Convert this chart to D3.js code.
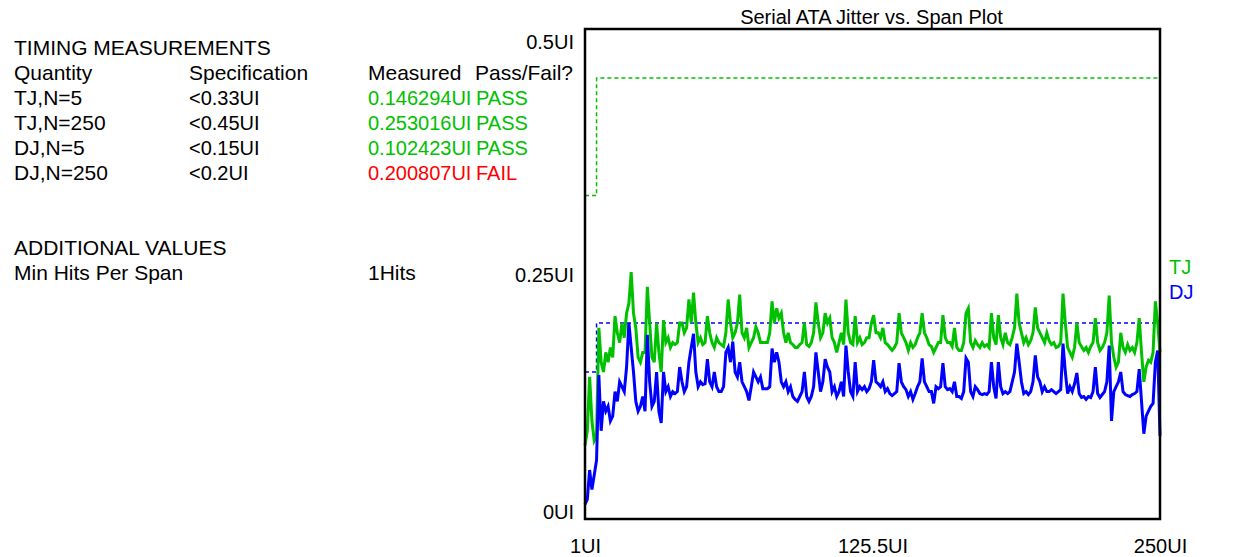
<!DOCTYPE html>
<html><head><meta charset="utf-8">
<script src="https://cdn.jsdelivr.net/npm/d3@7/dist/d3.min.js"></script>
<style>
html,body{margin:0;padding:0;background:#fff;}
svg text{font-family:"Liberation Sans",Arial,sans-serif;font-size:20px;fill:#000;}
svg text.w{font-size:21px;}
</style></head>
<body><svg id="c" width="1257" height="557"></svg>
<script>
// ---- data ----
const chartTitle = "Serial ATA Jitter vs. Span Plot";
const quantities = ["TJ,N=5","TJ,N=250","DJ,N=5","DJ,N=250"];
const specs = ["<0.33UI","<0.45UI","<0.15UI","<0.2UI"];
const measured = ["0.146294UI","0.253016UI","0.102423UI","0.200807UI"];
const passFail = ["PASS","PASS","PASS","FAIL"];
const headers = ["Quantity","Specification","Measured","Pass/Fail?"];
const extraNames = ["Min Hits Per Span"];
const extraValues = ["1Hits"];
const yTicks = [0, 0.25, 0.5];
const yTickLabels = ["0UI","0.25UI","0.5UI"];
const xTicks = [1, 125.5, 250];
const xTickLabels = ["1UI","125.5UI","250UI"];
const seriesNames = ["TJ","DJ"];
// spec limits: span 1..5 uses N=5 limit, span >=6 uses N=250 limit
const specSpans = [1, 6, 250];
const specTJ = [0.33, 0.45, 0.45];
const specDJ = [0.15, 0.2, 0.2];
const tj = [
0.075,0.09,0.145,0.10,0.08,0.085,0.195,0.16,0.15,0.17,
0.16,0.175,0.165,0.207,0.19,0.18,0.2,0.185,0.21,0.22,
0.252,0.21,0.195,0.165,0.16,0.17,0.17,0.237,0.2,0.165,
0.16,0.2,0.17,0.15,0.203,0.18,0.185,0.175,0.18,0.178,
0.18,0.2,
0.2,0.19,0.195,0.224,0.2,0.231,0.2,0.18,0.185,0.178,
0.18,0.207,0.19,0.18,0.175,0.185,0.18,0.178,0.176,0.19,
0.224,0.2,0.185,0.19,0.2,0.229,0.19,0.185,0.195,0.175,
0.18,0.185,0.196,0.19,0.18,0.18,0.18,0.18,0.19,0.222,
0.2,
0.215,0.205,0.21,0.19,0.18,0.19,0.18,0.178,0.175,0.175,
0.178,0.18,0.2,0.178,0.176,0.18,0.19,0.221,0.2,0.185,
0.19,0.21,0.2,0.205,0.185,0.18,0.17,0.18,0.19,0.178,
0.224,0.19,0.18,0.178,0.207,0.18,0.185,0.178,0.18,0.185,
0.185,0.2,
0.208,0.19,0.19,0.185,0.195,0.18,0.178,0.175,0.172,0.175,
0.18,0.21,0.19,0.185,0.18,0.172,0.18,0.175,0.178,0.185,
0.19,0.21,0.19,0.185,0.178,0.176,0.17,0.175,0.18,0.18,
0.208,0.185,0.18,0.18,0.176,0.195,0.175,0.172,0.172,0.18,
0.21,
0.215,0.18,0.175,0.182,0.178,0.175,0.18,0.176,0.178,0.175,
0.21,0.185,0.178,0.208,0.185,0.178,0.19,0.18,0.178,0.185,
0.195,0.23,0.2,0.19,0.18,0.185,0.178,0.182,0.19,0.216,
0.195,0.19,0.185,0.18,0.19,0.182,0.178,0.18,0.175,0.176,
0.18,0.23,
0.2,0.175,0.17,0.165,0.175,0.2,0.18,0.176,0.172,0.175,
0.17,0.176,0.18,0.205,0.18,0.172,0.175,0.18,0.19,0.228,
0.18,0.165,0.155,0.16,0.19,0.175,0.17,0.178,0.172,0.175,
0.17,0.18,0.205,0.17,0.14,0.155,0.162,0.16,0.17,0.222,
0.2,0.17];
const dj = [
0.015,0.02,0.05,0.03,0.045,0.06,0.147,0.09,0.12,0.11,
0.115,0.1,0.105,0.13,0.12,0.14,0.135,0.13,0.155,0.2,
0.175,0.15,0.12,0.11,0.115,0.125,0.11,0.188,0.14,0.115,
0.12,0.15,0.11,0.098,0.15,0.13,0.135,0.125,0.13,0.128,
0.13,0.155,
0.14,0.13,0.135,0.16,0.175,0.189,0.15,0.135,0.14,0.137,
0.138,0.163,0.14,0.135,0.15,0.135,0.13,0.13,0.135,0.17,
0.175,0.16,0.181,0.15,0.145,0.16,0.14,0.135,0.13,0.121,
0.135,0.15,0.145,0.14,0.145,0.133,0.133,0.133,0.135,0.174,
0.16,
0.17,0.16,0.14,0.135,0.14,0.13,0.135,0.125,0.122,0.12,
0.125,0.13,0.15,0.125,0.12,0.125,0.135,0.17,0.15,0.13,
0.14,0.163,0.155,0.15,0.13,0.135,0.125,0.13,0.14,0.125,
0.177,0.15,0.13,0.125,0.16,0.13,0.135,0.132,0.135,0.13,
0.133,0.14,
0.162,0.14,0.138,0.135,0.14,0.13,0.133,0.128,0.126,0.128,
0.13,0.159,0.14,0.135,0.132,0.125,0.13,0.122,0.128,0.135,
0.14,0.164,0.14,0.135,0.13,0.13,0.118,0.135,0.133,0.135,
0.159,0.135,0.132,0.133,0.13,0.14,0.125,0.125,0.123,0.13,
0.164,
0.16,0.13,0.125,0.135,0.132,0.128,0.127,0.128,0.127,0.13,
0.16,0.135,0.123,0.16,0.135,0.128,0.13,0.128,0.13,0.14,
0.15,0.179,0.16,0.14,0.128,0.13,0.127,0.13,0.14,0.167,
0.145,0.14,0.13,0.135,0.13,0.13,0.132,0.13,0.128,0.13,
0.132,0.179,
0.15,0.128,0.135,0.13,0.138,0.149,0.128,0.124,0.125,0.122,
0.125,0.124,0.13,0.155,0.128,0.124,0.127,0.13,0.14,0.177,
0.1,0.13,0.135,0.14,0.15,0.13,0.127,0.126,0.125,0.127,
0.128,0.13,0.153,0.12,0.087,0.105,0.11,0.115,0.118,0.16,
0.172,0.085];

// ---- styles ----
const GREEN = "#00c000", BLUE = "#0000ff", RED = "#ff0000";

const svg = d3.select("#c");

// ---- left table ----
const colX = [14, 189, 368, 475];
svg.append("text").attr("class", "w").attr("x", colX[0]).attr("y", 55).text("TIMING MEASUREMENTS");
headers.forEach((h, i) => svg.append("text").attr("class", "w").attr("x", colX[i]).attr("y", 80).text(h));
quantities.forEach((q, r) => {
  const y = 105 + r * 25;
  const col = passFail[r] === "PASS" ? GREEN : RED;
  svg.append("text").attr("class", "w").attr("x", colX[0]).attr("y", y).text(q);
  svg.append("text").attr("x", colX[1]).attr("y", y).text(specs[r]);
  svg.append("text").attr("x", colX[2]).attr("y", y).style("fill", col).text(measured[r]);
  svg.append("text").attr("x", colX[3] + 1).attr("y", y).style("fill", col).text(passFail[r]);
});
svg.append("text").attr("class", "w").attr("x", colX[0]).attr("y", 255).text("ADDITIONAL VALUES");
extraNames.forEach((n, r) => {
  svg.append("text").attr("class", "w").attr("x", colX[0]).attr("y", 280 + r * 25).text(n);
  svg.append("text").attr("class", "w").attr("x", colX[2]).attr("y", 280 + r * 25).text(extraValues[r]);
});

// ---- plot ----
const L = 585, R = 1160, T = 29, B = 519;
const x = d3.scaleLinear().domain([1, 250]).range([L, R]);
const y = d3.scaleLinear().domain([0, 0.5]).range([B, T]);

svg.append("text").attr("x", (L + R) / 2 - 1).attr("y", 24).attr("text-anchor", "middle").text(chartTitle);

// spec lines
const specLine = d3.line().x(d => x(d[0])).y(d => y(d[1])).curve(d3.curveStepAfter);
svg.append("path").datum(specSpans.map((s, i) => [s, specTJ[i]]))
  .attr("d", specLine).attr("fill", "none").attr("stroke", GREEN)
  .attr("stroke-width", 1.5).attr("stroke-dasharray", "4,3");
svg.append("path").datum(specSpans.map((s, i) => [s, specDJ[i]]))
  .attr("d", specLine).attr("fill", "none").attr("stroke", BLUE)
  .attr("stroke-width", 1.5).attr("stroke-dasharray", "4,3");

// data lines
const line = d3.line().x((d, i) => x(i + 1)).y(d => y(d));
svg.append("path").datum(tj).attr("d", line).attr("fill", "none")
  .attr("stroke", GREEN).attr("stroke-width", 3).attr("stroke-linejoin", "miter");
svg.append("path").datum(dj).attr("d", line).attr("fill", "none")
  .attr("stroke", BLUE).attr("stroke-width", 3).attr("stroke-linejoin", "miter");

// frame
svg.append("rect").attr("x", L).attr("y", T).attr("width", R - L).attr("height", B - T)
  .attr("fill", "none").attr("stroke", "#000").attr("stroke-width", 2.5);

// axes
const yAxis = svg.append("g").attr("transform", `translate(${L},0)`)
  .call(d3.axisLeft(y).tickValues(yTicks).tickSize(0).tickPadding(11)
    .tickFormat((d, i) => yTickLabels[i]));
yAxis.select(".domain").remove();
yAxis.selectAll("text").style("font-size", "20px").style("font-family", null)
  .attr("dy", d => d === 0.5 ? "0.95em" : d === 0 ? "-0.05em" : "0.35em");

const xAxis = svg.append("g").attr("transform", `translate(0,${B})`)
  .call(d3.axisBottom(x).tickValues(xTicks).tickSize(0).tickPadding(20)
    .tickFormat((d, i) => xTickLabels[i]));
xAxis.select(".domain").remove();
xAxis.selectAll("text").style("font-size", "20px").style("font-family", null);

// legend
svg.append("text").attr("x", 1169).attr("y", 274).style("fill", GREEN).text(seriesNames[0]);
svg.append("text").attr("x", 1169).attr("y", 299).style("fill", BLUE).text(seriesNames[1]);
</script></body></html>
